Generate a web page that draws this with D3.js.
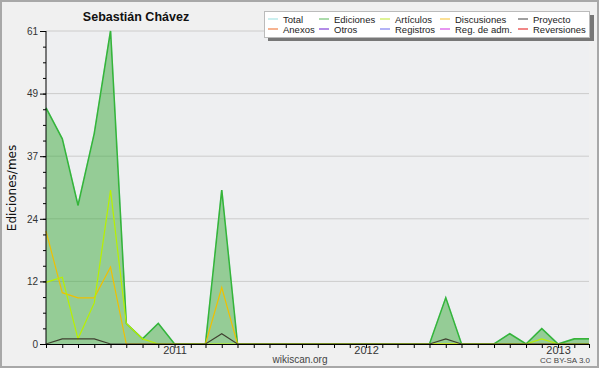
<!DOCTYPE html>
<html lang="es">
<head>
<meta charset="UTF-8">
<title>Sebastián Chávez</title>
<script src="https://d3js.org/d3.v7.min.js"></script>
<style>
    body { margin: 0; padding: 0; background: #fff; }
    svg { display: block; font-family: "Liberation Sans", Arial, sans-serif; }
    .axis path, .axis line { stroke: #000; }
    .axis text { fill: #333; font-size: 10px; }
</style>
</head>
<body>
<svg id="chart" width="600" height="370"></svg>
<script>
    // monthly data, May 2010 -> March 2013
    const startMonth = new Date(2010, 4, 1);
    const endMonth = new Date(2013, 2, 1);

    const total      = [46, 40, 27, 41, 61, 4, 1, 4, 0, 0, 0, 30, 0, 0, 0, 0, 0, 0, 0, 0, 0, 0, 0, 0, 0, 9, 0, 0, 0, 2, 0, 3, 0, 1, 1];
    const ediciones  = [46, 40, 27, 41, 61, 4, 1, 4, 0, 0, 0, 30, 0, 0, 0, 0, 0, 0, 0, 0, 0, 0, 0, 0, 0, 9, 0, 0, 0, 2, 0, 3, 0, 1, 1];
    const articulos  = [12, 13, 1, 8, 30, 4, 1, 0, 0, 0, 0, 0, 0, 0, 0, 0, 0, 0, 0, 0, 0, 0, 0, 0, 0, 0, 0, 0, 0, 0, 0, 1, 0, 0, 0];
    const discusiones = [22, 10, 9, 9, 15, 0, 0, 0, 0, 0, 0, 11, 0, 0, 0, 0, 0, 0, 0, 0, 0, 0, 0, 0, 0, 0, 0, 0, 0, 0, 0, 0, 0, 0, 0];
    const proyecto   = [0, 1, 1, 1, 0, 0, 0, 0, 0, 0, 0, 2, 0, 0, 0, 0, 0, 0, 0, 0, 0, 0, 0, 0, 0, 1, 0, 0, 0, 0, 0, 0, 0, 0, 0];

    const yMax = 61;
    const yTickValues = [0, 12.2, 24.4, 36.6, 48.8, 61];
    const yTickLabels = ["0", "12", "24", "37", "49", "61"];

    const legendRow1 = ["Total", "Ediciones", "Artículos", "Discusiones", "Proyecto"];
    const legendRow2 = ["Anexos", "Otros", "Registros", "Reg. de adm.", "Reversiones"];
    const legendColors1 = ["#a8e4e4", "#74c474", "#c8ec50", "#f8cc50", "#606060"];
    const legendColors2 = ["#f08048", "#8040d8", "#8080f0", "#d850e8", "#e83838"];

    const months = d3.timeMonth.range(startMonth, d3.timeMonth.offset(endMonth, 1));

    const svg = d3.select("#chart");
    const margin = { left: 46, right: 589, top: 31, bottom: 344 };

    // background + frame
    svg.append("rect").attr("x", 1).attr("y", 1).attr("width", 597).attr("height", 366)
        .attr("fill", "#f0f0f0").attr("stroke", "#a8a8a8").attr("stroke-width", 2);
    svg.append("rect").attr("x", margin.left).attr("y", margin.top)
        .attr("width", margin.right - margin.left).attr("height", margin.bottom - margin.top)
        .attr("fill", "#eeeff1");

    const x = d3.scaleTime().domain([startMonth, endMonth]).range([margin.left, margin.right]);
    const y = d3.scaleLinear().domain([0, yMax]).range([margin.bottom, margin.top]);

    // grid
    svg.append("g").selectAll("line").data(yTickValues.slice(1)).join("line")
        .attr("x1", margin.left).attr("x2", margin.right)
        .attr("y1", d => y(d)).attr("y2", d => y(d))
        .attr("stroke", "#cccccc").attr("stroke-width", 1);

    const series = (arr) => arr.map((v, i) => ({ date: months[i], value: v }));
    const line = d3.line().x(d => x(d.date)).y(d => y(d.value));
    const area = d3.area().x(d => x(d.date)).y0(y(0)).y1(d => y(d.value));

    svg.append("path").datum(series(ediciones)).attr("d", area)
        .attr("fill", "rgba(60,170,60,0.5)");

    svg.append("path").datum(series(total)).attr("d", line)
        .attr("fill", "none").attr("stroke", legendColors1[0]).attr("stroke-width", 1.5);
    svg.append("path").datum(series(ediciones)).attr("d", line)
        .attr("fill", "none").attr("stroke", "#38b438").attr("stroke-width", 1.6);
    svg.append("path").datum(series(discusiones)).attr("d", line)
        .attr("fill", "none").attr("stroke", "#f0c000").attr("stroke-width", 1.2);
    svg.append("path").datum(series(articulos)).attr("d", line)
        .attr("fill", "none").attr("stroke", "#b8f000").attr("stroke-width", 1.2);
    svg.append("path").datum(series(proyecto)).attr("d", line)
        .attr("fill", "none").attr("stroke", "#404030").attr("stroke-width", 1.2);

    // y axis
    const yAxis = svg.append("g").attr("class", "axis")
        .attr("transform", `translate(${margin.left},0)`)
        .call(d3.axisLeft(y).tickValues(yTickValues).tickSize(6).tickPadding(2)
            .tickFormat((d, i) => yTickLabels[i]));
    yAxis.select(".domain").remove();
    svg.append("g").attr("class", "axis")
        .attr("transform", `translate(${margin.left},0)`)
        .call(d3.axisLeft(y).tickValues(d3.range(0, yMax + 0.01, yMax / 20)).tickSize(3).tickFormat(""))
        .select(".domain").remove();
    svg.append("line").attr("x1", margin.left).attr("x2", margin.left)
        .attr("y1", margin.top).attr("y2", margin.bottom).attr("stroke", "#000");

    // x axis
    const xAxis = svg.append("g").attr("class", "axis")
        .attr("transform", `translate(0,${margin.bottom})`)
        .call(d3.axisBottom(x).ticks(d3.timeMonth.every(1)).tickSize(4).tickSizeOuter(0)
            .tickFormat(d => d.getMonth() === 0 ? d3.timeFormat("%Y")(d) : ""));
    xAxis.selectAll("text").attr("y", 10).attr("dy", 0).style("font-size", "11px");

    // labels
    svg.append("text").attr("x", 136).attr("y", 21).attr("text-anchor", "middle")
        .style("font-size", "12.5px").style("font-weight", "bold").attr("fill", "#111")
        .text("Sebastián Chávez");
    svg.append("text").attr("transform", "translate(16,188) rotate(-90)")
        .attr("text-anchor", "middle").style("font-family", "DejaVu Sans")
        .style("font-size", "12px").attr("fill", "#111").text("Ediciones/mes");
    svg.append("text").attr("x", 300).attr("y", 363).attr("text-anchor", "middle")
        .style("font-size", "10px").attr("fill", "#444").text("wikiscan.org");
    svg.append("text").attr("x", 590).attr("y", 363).attr("text-anchor", "end")
        .style("font-size", "8px").attr("fill", "#444").text("CC BY-SA 3.0");

    // legend
    const legend = svg.append("g");
    legend.append("rect").attr("x", 268).attr("y", 15).attr("width", 326).attr("height", 26).attr("fill", "#777");
    legend.append("rect").attr("x", 264.5).attr("y", 11.5).attr("width", 325).attr("height", 26)
        .attr("fill", "#fff").attr("stroke", "#bbb");
    const colX = [268, 319, 380, 440, 518];
    [[legendRow1, legendColors1, 19], [legendRow2, legendColors2, 29]].forEach(([names, colors, yy]) => {
        names.forEach((name, i) => {
            legend.append("line").attr("x1", colX[i]).attr("x2", colX[i] + 10)
                .attr("y1", yy).attr("y2", yy).attr("stroke", colors[i]).attr("stroke-width", 1.2);
            legend.append("text").attr("x", colX[i] + 15).attr("y", yy + 3.5)
                .style("font-size", "9.5px").attr("fill", "#222").text(name);
        });
    });
</script>
</body>
</html>
